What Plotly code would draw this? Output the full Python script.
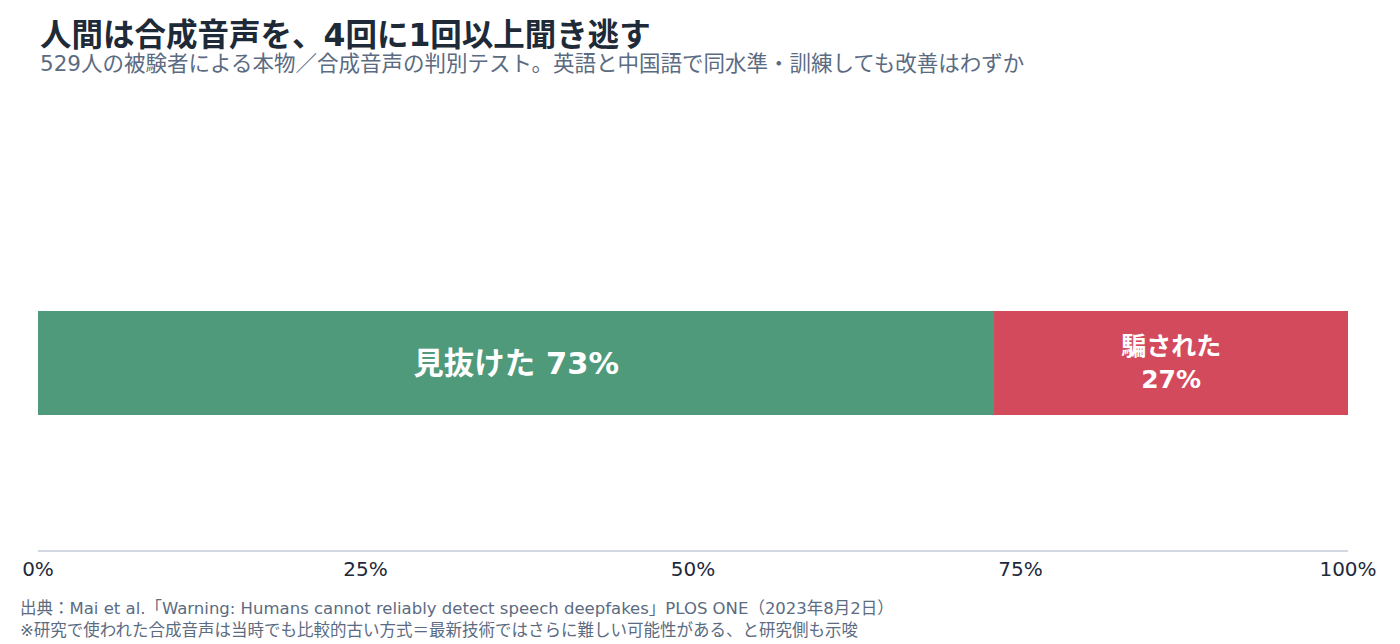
import plotly.graph_objects as go

categories = ["回答"]
labels = ["見抜けた", "騙された"]
values = [73, 27]
colors = ["#4e9a7b", "#d34a5c"]
text_templates = ["<b>見抜けた %{x}%</b>", "<b>騙された<br>%{x}%</b>"]
text_sizes = [30.5, 25]
tick_vals = [0, 25, 50, 75, 100]
tick_text = ["0%", "25%", "50%", "75%", "100%"]

font_family = "DejaVu Sans, Noto Sans CJK JP, sans-serif"

fig = go.Figure()
for label, val, color, tmpl, size in zip(labels, values, colors, text_templates, text_sizes):
    fig.add_trace(go.Bar(
        y=categories,
        x=[val],
        name=label,
        orientation="h",
        marker=dict(color=color, line=dict(width=0)),
        texttemplate=tmpl,
        textposition="inside",
        insidetextanchor="middle",
        textfont=dict(color="white", size=size, family=font_family),
        hoverinfo="skip",
    ))

fig.update_layout(
    barmode="stack",
    bargap=0.722,
    width=1392,
    height=636,
    margin=dict(l=30, r=52, t=168, b=94),
    plot_bgcolor="white",
    paper_bgcolor="white",
    showlegend=False,
    font=dict(family=font_family, color="#1e293b"),
)
fig.update_xaxes(
    range=[0, 100],
    tickvals=tick_vals,
    ticktext=tick_text,
    showgrid=False,
    zeroline=False,
    showline=True,
    linecolor="#d2d7e1",
    linewidth=2,
    ticks="",
    tickfont=dict(size=20, color="#1e293b"),
)
fig.update_yaxes(showticklabels=False, showgrid=False, zeroline=False, range=[-0.5, 0.5])

# プロット領域 (高さ 374px) を基準に paper 座標へ
def py(pix):
    return (550 - pix) / 374

fig.add_annotation(
    text="<b>人間は合成音声を、4回に1回以上聞き逃す</b>",
    xref="paper", yref="paper", x=0, y=py(35),
    xanchor="left", yanchor="middle", showarrow=False,
    font=dict(size=31.5, color="#1e2a38"),
)
fig.add_annotation(
    text="529人の被験者による本物／合成音声の判別テスト。英語と中国語で同水準・訓練しても改善はわずか",
    xref="paper", yref="paper", x=0, y=py(64),
    xanchor="left", yanchor="middle", showarrow=False,
    font=dict(size=21.5, color="#5b6b82"),
)
fig.add_annotation(
    text="出典：Mai et al.「Warning: Humans cannot reliably detect speech deepfakes」PLOS ONE（2023年8月2日）",
    xref="paper", yref="paper", x=-20 / 1310, y=py(608),
    xanchor="left", yanchor="middle", showarrow=False,
    font=dict(size=16.5, color="#5b6b82"),
)
fig.add_annotation(
    text="※研究で使われた合成音声は当時でも比較的古い方式＝最新技術ではさらに難しい可能性がある、と研究側も示唆",
    xref="paper", yref="paper", x=-20 / 1310, y=py(630),
    xanchor="left", yanchor="middle", showarrow=False,
    font=dict(size=16.5, color="#5b6b82"),
)

fig.write_html("out.html")
